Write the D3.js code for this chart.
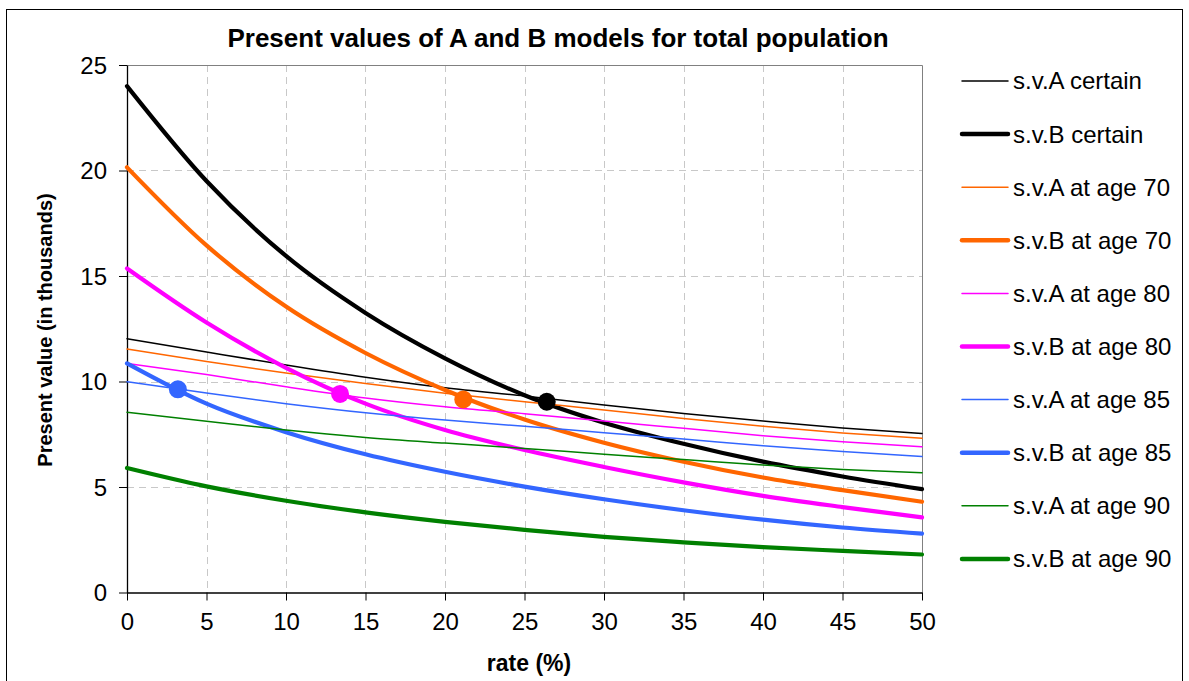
<!DOCTYPE html>
<html>
<head>
<meta charset="utf-8">
<script src="https://cdn.jsdelivr.net/npm/d3@7"></script>
<style>
  body { margin: 0; background: #fff; }
  text { font-family: Arial, "Liberation Sans", sans-serif; fill: #000; }
</style>
</head>
<body>
<svg id="chart" width="1189" height="681"></svg>
<script>
// rate (%) on x, present value (thousands) on y
var rates = [0, 5, 10, 15, 20, 25, 30, 35, 40, 45, 50];

var svACertain = [12.03, 11.40, 10.78, 10.20, 9.70, 9.31, 8.89, 8.48, 8.13, 7.80, 7.54];
var svBCertain = [24.00, 19.50, 15.95, 13.25, 11.10, 9.35, 8.05, 7.05, 6.20, 5.50, 4.90];
var svA70 = [11.54, 10.95, 10.40, 9.90, 9.44, 9.04, 8.65, 8.25, 7.88, 7.56, 7.31];
var svB70 = [20.15, 16.45, 13.55, 11.35, 9.60, 8.20, 7.10, 6.20, 5.45, 4.85, 4.30];
var svA80 = [10.86, 10.33, 9.75, 9.22, 8.80, 8.47, 8.13, 7.78, 7.43, 7.15, 6.91];
var svB80 = [15.36, 12.80, 10.65, 8.95, 7.70, 6.75, 5.95, 5.22, 4.58, 4.05, 3.56];
var svA85 = [9.99, 9.45, 8.95, 8.52, 8.17, 7.88, 7.57, 7.27, 6.95, 6.68, 6.44];
var svB85 = [10.86, 8.95, 7.60, 6.55, 5.72, 5.02, 4.42, 3.90, 3.45, 3.08, 2.79];
var svA90 = [8.54, 8.12, 7.70, 7.35, 7.08, 6.83, 6.55, 6.30, 6.04, 5.83, 5.68];
var svB90 = [5.90, 5.03, 4.35, 3.80, 3.35, 2.97, 2.64, 2.38, 2.15, 1.97, 1.80];

var seriesNames = ["s.v.A certain", "s.v.B certain", "s.v.A at age 70", "s.v.B at age 70",
                   "s.v.A at age 80", "s.v.B at age 80", "s.v.A at age 85", "s.v.B at age 85",
                   "s.v.A at age 90", "s.v.B at age 90"];
var seriesValues = [svACertain, svBCertain, svA70, svB70, svA80, svB80, svA85, svB85, svA90, svB90];

// points where A and B cross for each age
var crossRates = [3.2, 13.4, 21.15, 26.4];
var crossValues = [9.63, 9.41, 9.15, 9.04];

var xTicks = [0, 5, 10, 15, 20, 25, 30, 35, 40, 45, 50];
var yTicks = [0, 5, 10, 15, 20, 25];

// styles
var colBlack = "#000000", colOrange = "#ff6600", colMagenta = "#ff00ff", colBlue = "#3366ff", colGreen = "#008000";
var seriesColors = [colBlack, colBlack, colOrange, colOrange, colMagenta, colMagenta, colBlue, colBlue, colGreen, colGreen];
var crossColors = [colBlue, colMagenta, colOrange, colBlack];

var svg = d3.select("#chart");

// outer frame
svg.append("rect").attr("x", 6.5).attr("y", 9.5).attr("width", 1176).attr("height", 700)
   .attr("fill", "none").attr("stroke", "#000").attr("stroke-width", 1);

var pLeft = 127, pRight = 922, pTop = 65, pBottom = 592.5;

var x = d3.scaleLinear().domain([0, 50]).range([pLeft, pRight]);
var y = d3.scaleLinear().domain([0, 25]).range([pBottom, pTop]);

// dashed grid
svg.append("g").selectAll("line").data(yTicks.filter(function(d){ return d > 0 && d < 25; }))
   .enter().append("line")
   .attr("x1", pLeft).attr("x2", pRight)
   .attr("y1", function(d){ return Math.round(y(d)) + 0.5; })
   .attr("y2", function(d){ return Math.round(y(d)) + 0.5; })
   .attr("stroke", "#c8c8c8").attr("stroke-dasharray", "7,5");

svg.append("g").selectAll("line").data(xTicks.filter(function(d){ return d > 0 && d < 50; }))
   .enter().append("line")
   .attr("y1", pTop).attr("y2", pBottom)
   .attr("x1", function(d){ return Math.round(x(d)) + 0.5; })
   .attr("x2", function(d){ return Math.round(x(d)) + 0.5; })
   .attr("stroke", "#c8c8c8").attr("stroke-dasharray", "7,5");

// top and right border of plot area
svg.append("path")
   .attr("d", "M" + pLeft + "," + (pTop + 0.5) + "H" + (pRight + 0.5) + "V" + pBottom)
   .attr("fill", "none").attr("stroke", "#808080");

// axes
var xAxis = d3.axisBottom(x).tickValues(xTicks).tickSize(8).tickSizeOuter(0).tickPadding(12);
var yAxis = d3.axisLeft(y).tickValues(yTicks).tickSize(8).tickSizeOuter(0).tickPadding(12);

var gx = svg.append("g").attr("transform", "translate(0," + pBottom + ")").call(xAxis);
var gy = svg.append("g").attr("transform", "translate(" + pLeft + ",0)").call(yAxis);
[gx, gy].forEach(function(g){
  g.selectAll("text").style("font-size", "24px").attr("fill", "#000");
  g.selectAll("line").attr("stroke", "#000");
  g.select(".domain").attr("stroke", "#000").attr("stroke-width", 1.3);
});
gx.selectAll("text").attr("dy", "0.71em");
gy.selectAll("text").attr("dy", "0.35em");

// lines
var line = d3.line()
  .x(function(d){ return x(d[0]); })
  .y(function(d){ return y(d[1]); })
  .curve(d3.curveMonotoneX);

seriesValues.forEach(function(vals, i){
  var pts = rates.map(function(r, k){ return [r, vals[k]]; });
  svg.append("path")
     .attr("d", line(pts))
     .attr("fill", "none")
     .attr("stroke", seriesColors[i])
     .attr("stroke-width", i % 2 === 0 ? 1.5 : 4.2)
     .attr("stroke-linejoin", "round")
     .attr("stroke-linecap", "round");
});

// crossing markers
svg.append("g").selectAll("circle").data(crossRates).enter().append("circle")
   .attr("cx", function(d){ return x(d); })
   .attr("cy", function(d, i){ return y(crossValues[i]); })
   .attr("r", 9)
   .attr("fill", function(d, i){ return crossColors[i]; });

// titles
svg.append("text").attr("x", 558).attr("y", 47).attr("text-anchor", "middle")
   .style("font-size", "26px").style("font-weight", "bold")
   .text("Present values of A and B models for total population");

svg.append("text").attr("x", 529).attr("y", 671).attr("text-anchor", "middle")
   .style("font-size", "23px").style("font-weight", "bold")
   .text("rate (%)");

svg.append("text")
   .attr("transform", "translate(52,330) rotate(-90)")
   .attr("text-anchor", "middle")
   .style("font-size", "20px").style("font-weight", "bold")
   .text("Present value  (in thousands)");

// legend
var legend = svg.append("g").selectAll("g").data(seriesNames).enter().append("g")
   .attr("transform", function(d, i){ return "translate(962," + (81 + i * 53.1) + ")"; });
legend.append("line").attr("x1", 0).attr("x2", 46)
   .attr("stroke", function(d, i){ return seriesColors[i]; })
   .attr("stroke-width", function(d, i){ return i % 2 === 0 ? 1.5 : 4.5; })
   .attr("stroke-linecap", "round");
legend.append("text").attr("x", 51).attr("dy", "0.35em")
   .style("font-size", "24px")
   .text(function(d){ return d; });
</script>
</body>
</html>
